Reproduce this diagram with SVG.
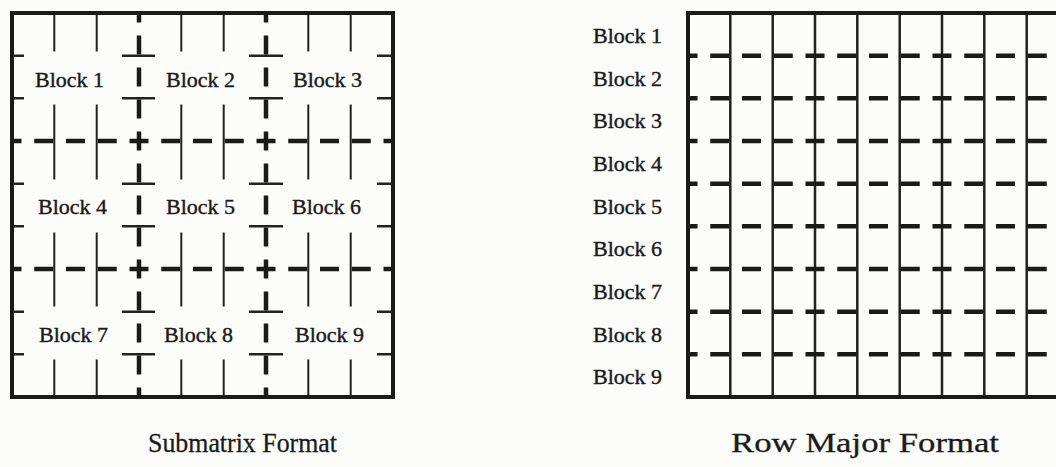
<svg xmlns="http://www.w3.org/2000/svg" width="1056" height="467" viewBox="0 0 1056 467">
<style>
.bg{fill:#fcfcfb}
.border{fill:none;stroke:#1a1a1a;stroke-width:4}
.fine{stroke:#222;stroke-width:2;fill:none}
.bar{stroke:#222;stroke-width:2.5;fill:none}
.dv{stroke:#1a1a1a;stroke-width:4.5;fill:none;stroke-dasharray:19 13;stroke-dashoffset:9.5}
.dh{stroke:#1a1a1a;stroke-width:4.5;fill:none;stroke-dasharray:19 12.75;stroke-dashoffset:9.5}
.lbl{font-family:"Liberation Serif","Times New Roman",serif;font-size:22px;fill:#1a1a1a;stroke:#1a1a1a;stroke-width:0.4}
.title{font-family:"Liberation Serif","Times New Roman",serif;font-size:28px;fill:#1a1a1a;stroke:#1a1a1a;stroke-width:0.3}
</style>
<rect class="bg" x="0" y="0" width="1056" height="467"/>

<g id="submatrix">
  <g class="fine">
    <path d="M54.3 13V51.5M54.3 104.5V179.5M54.3 232.5V306.5M54.3 359.5V397"/>
    <path d="M96.7 13V51.5M96.7 104.5V179.5M96.7 232.5V306.5M96.7 359.5V397"/>
    <path d="M181.3 13V51.5M181.3 104.5V179.5M181.3 232.5V306.5M181.3 359.5V397"/>
    <path d="M223.7 13V51.5M223.7 104.5V179.5M223.7 232.5V306.5M223.7 359.5V397"/>
    <path d="M308.3 13V51.5M308.3 104.5V179.5M308.3 232.5V306.5M308.3 359.5V397"/>
    <path d="M350.7 13V51.5M350.7 104.5V179.5M350.7 232.5V306.5M350.7 359.5V397"/>
  </g>
  <g class="bar">
    <path d="M12 55.7H24M122 55.7H155M249 55.7H283M377 55.7H393"/>
    <path d="M12 98.3H24M122 98.3H155M249 98.3H283M377 98.3H393"/>
    <path d="M12 183.7H24M122 183.7H155M249 183.7H283M377 183.7H393"/>
    <path d="M12 226.3H24M122 226.3H155M249 226.3H283M377 226.3H393"/>
    <path d="M12 311.7H24M122 311.7H155M249 311.7H283M377 311.7H393"/>
    <path d="M12 354.3H24M122 354.3H155M249 354.3H283M377 354.3H393"/>
  </g>
  <path class="dv" d="M139 13V397"/>
  <path class="dv" d="M266 13V397"/>
  <path class="dh" d="M12 141H393"/>
  <path class="dh" d="M12 269H393"/>
  <rect class="border" x="12" y="13" width="381" height="384"/>
  <g class="lbl">
    <text x="35" y="87">Block 1</text>
    <text x="166" y="87">Block 2</text>
    <text x="293" y="87">Block 3</text>
    <text x="38" y="214">Block 4</text>
    <text x="166" y="214">Block 5</text>
    <text x="292" y="214">Block 6</text>
    <text x="39" y="342">Block 7</text>
    <text x="164" y="342">Block 8</text>
    <text x="295" y="342">Block 9</text>
  </g>
  <text class="title" x="148" y="452" textLength="189" lengthAdjust="spacingAndGlyphs">Submatrix Format</text>
</g>

<g id="rowmajor">
  <g class="fine" style="stroke-width:2.5">
    <path d="M730.3 13V397M772.7 13V397M815 13V397M857.3 13V397M899.7 13V397M942 13V397M984.3 13V397M1026.7 13V397"/>
  </g>
  <g>
    <path class="dh" d="M688 55.7H1069"/>
    <path class="dh" d="M688 98.3H1069"/>
    <path class="dh" d="M688 141H1069"/>
    <path class="dh" d="M688 183.7H1069"/>
    <path class="dh" d="M688 226.3H1069"/>
    <path class="dh" d="M688 269H1069"/>
    <path class="dh" d="M688 311.7H1069"/>
    <path class="dh" d="M688 354.3H1069"/>
  </g>
  <rect class="border" x="688" y="13" width="381" height="384"/>
  <g class="lbl">
    <text x="593" y="43">Block 1</text>
    <text x="593" y="86">Block 2</text>
    <text x="593" y="128">Block 3</text>
    <text x="593" y="171">Block 4</text>
    <text x="593" y="214">Block 5</text>
    <text x="593" y="256">Block 6</text>
    <text x="593" y="299">Block 7</text>
    <text x="593" y="342">Block 8</text>
    <text x="593" y="384">Block 9</text>
  </g>
  <text class="title" x="731" y="452" textLength="268" lengthAdjust="spacingAndGlyphs">Row Major Format</text>
</g>
</svg>
